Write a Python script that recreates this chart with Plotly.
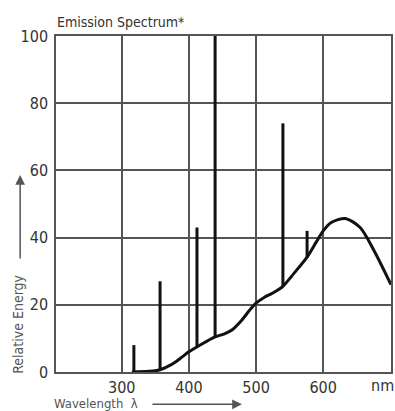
import plotly.graph_objects as go

# Continuous spectrum (wavelength nm, relative energy)
curve_wl = [315, 340, 356, 370, 380, 390, 400, 415, 438, 452, 464, 479, 490, 500,
            512, 525, 540, 557, 576, 590, 600, 612, 633, 655, 675, 701]
curve_val = [0, 0.2, 0.6, 1.8, 3, 4.5, 6, 7.8, 10.4, 11.3, 12.5, 15.5, 18.3, 20.5,
             22.2, 23.5, 25.5, 29.5, 34.2, 38.8, 42, 44.5, 45.7, 43, 36.4, 26]

# Mercury emission lines
line_wl = [318, 357, 412, 439, 540, 576]
line_top = [8, 27, 43, 100, 74, 42]
line_base = [0, 0.6, 7.5, 10.4, 25.5, 34]

x_ticks = [300, 400, 500, 600]
y_ticks = [0, 20, 40, 60, 80, 100]

FONT = "DejaVu Sans Condensed, Roboto, sans-serif"
GRID = "#555555"

lx, ly = [], []
for w, b, t in zip(line_wl, line_base, line_top):
    lx += [w, w, None]
    ly += [b, t, None]

fig = go.Figure()
fig.add_trace(go.Scatter(x=curve_wl, y=curve_val, mode="lines",
                         line=dict(color="#111111", width=3, shape="spline", smoothing=0.8),
                         hoverinfo="skip", showlegend=False))
fig.add_trace(go.Scatter(x=lx, y=ly, mode="lines",
                         line=dict(color="#111111", width=3),
                         hoverinfo="skip", showlegend=False))

fig.update_layout(
    width=395, height=411,
    margin=dict(l=56, r=2, t=36, b=39),
    paper_bgcolor="white", plot_bgcolor="white",
    font=dict(family=FONT, size=16, color="#333333"),
    xaxis=dict(range=[202, 701], tickvals=x_ticks, ticktext=[str(v) for v in x_ticks],
               showgrid=True, gridcolor=GRID, gridwidth=1.5,
               showline=True, linecolor=GRID, linewidth=1.5, mirror=True,
               zeroline=False, ticks="", fixedrange=True),
    yaxis=dict(range=[0, 100], tickvals=y_ticks, ticktext=[str(v) for v in y_ticks],
               showgrid=True, gridcolor=GRID, gridwidth=1.5,
               showline=True, linecolor=GRID, linewidth=1.5, mirror=True,
               zeroline=False, ticks="", ticklabelstandoff=3, fixedrange=True),
)

annots = [
    dict(text="Emission Spectrum*", x=-0.003, y=1.043, xref="paper", yref="paper",
         xanchor="left", yanchor="middle", showarrow=False,
         font=dict(family=FONT, size=14, color="#333333")),
    dict(text="nm", x=0.975, y=-0.039, xref="paper", yref="paper",
         xanchor="center", yanchor="middle", showarrow=False,
         font=dict(family=FONT, size=16, color="#333333")),
    dict(text="Relative Energy", x=-0.116, y=0.141, xref="paper", yref="paper",
         xanchor="center", yanchor="middle", showarrow=False, textangle=-90,
         font=dict(family=FONT, size=14, color="#555555")),
    dict(text="Wavelength  λ", x=-0.012, y=-0.094, xref="paper", yref="paper",
         xanchor="left", yanchor="middle", showarrow=False,
         font=dict(family=FONT, size=13, color="#555555")),
    # arrows
    dict(text="", x=-0.107, y=0.586, xref="paper", yref="paper",
         showarrow=True, ax=0, ay=85, arrowhead=2, arrowsize=1.3, arrowwidth=1.5,
         arrowcolor="#555555"),
    dict(text="", x=0.555, y=-0.096, xref="paper", yref="paper",
         showarrow=True, ax=-91, ay=0, arrowhead=2, arrowsize=1.3, arrowwidth=1.5,
         arrowcolor="#555555"),
]
fig.update_layout(annotations=annots)

fig.write_html("out.html", config={"displayModeBar": False},
               post_script="document.body.style.margin='0';document.body.style.overflow='hidden';")
